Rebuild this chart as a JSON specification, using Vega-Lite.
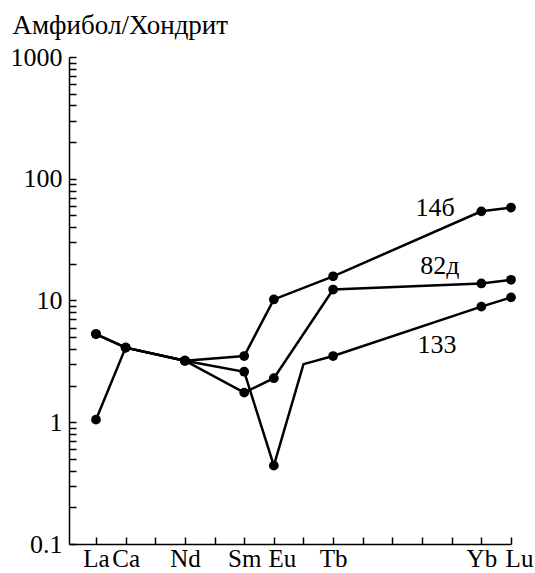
{
  "$schema": "https://vega.github.io/schema/vega-lite/v6.json",
  "width": 442,
  "height": 487,
  "autosize": "none",
  "padding": {"left": 69, "top": 57, "right": 24, "bottom": 29},
  "background": "white",
  "config": {
    "view": {"stroke": null},
    "font": "Liberation Serif",
    "axis": {"grid": false, "domainColor": "black", "tickColor": "black", "labelColor": "black", "titleColor": "black", "titleFontWeight": "normal", "domainWidth": 1.5, "tickWidth": 1.5, "labelFont": "Liberation Serif", "titleFont": "Liberation Serif"}
  },
  "datasets": {
    "ree": [
      {"series": "14б", "el": 1, "v": 1.05},
      {"series": "14б", "el": 2, "v": 4.1},
      {"series": "14б", "el": 4, "v": 3.2},
      {"series": "14б", "el": 6, "v": 3.5},
      {"series": "14б", "el": 7, "v": 10.2},
      {"series": "14б", "el": 9, "v": 15.8},
      {"series": "14б", "el": 14, "v": 54},
      {"series": "14б", "el": 15, "v": 58},
      {"series": "82д", "el": 1, "v": 5.3},
      {"series": "82д", "el": 2, "v": 4.1},
      {"series": "82д", "el": 4, "v": 3.2},
      {"series": "82д", "el": 6, "v": 1.75},
      {"series": "82д", "el": 7, "v": 2.3},
      {"series": "82д", "el": 9, "v": 12.3},
      {"series": "82д", "el": 14, "v": 13.8},
      {"series": "82д", "el": 15, "v": 14.8},
      {"series": "133", "el": 1, "v": 5.3},
      {"series": "133", "el": 2, "v": 4.1},
      {"series": "133", "el": 4, "v": 3.2},
      {"series": "133", "el": 6, "v": 2.6},
      {"series": "133", "el": 7, "v": 0.44},
      {"series": "133", "el": 8, "v": 3.0},
      {"series": "133", "el": 9, "v": 3.5},
      {"series": "133", "el": 14, "v": 8.9},
      {"series": "133", "el": 15, "v": 10.6}
    ],
    "labels": [
      {"series": "14б", "el": 12.44, "v": 57},
      {"series": "82д", "el": 12.6, "v": 19.1},
      {"series": "133", "el": 12.5, "v": 4.3}
    ]
  },
  "layer": [
    {
      "data": {"name": "ree"},
      "mark": {"type": "line", "color": "black", "strokeWidth": 2.5},
      "encoding": {
        "x": {
          "field": "el", "type": "quantitative",
          "scale": {"domain": [0.09, 15], "nice": false, "zero": false},
          "axis": {
            "title": null,
            "values": [1,2,3,4,5,6,7,8,9,10,11,12,13,14,15],
            "tickCount": 100,
            "tickSize": -7,
            "labelBaseline": "alphabetic",
            "labelPadding": 29,
            "labelFontSize": 25,
            "labelOffset": {"condition": {"test": "datum.value == 7 || datum.value == 15", "value": 8}, "value": 0},
            "labelOverlap": false,
            "labelFlush": false,
            "labelBound": false,
            "labelExpr": "datum.value == 1 ? 'La' : datum.value == 2 ? 'Ca' : datum.value == 4 ? 'Nd' : datum.value == 6 ? 'Sm' : datum.value == 7 ? 'Eu' : datum.value == 9 ? 'Tb' : datum.value == 14 ? 'Yb' : datum.value == 15 ? 'Lu' : ''"
          }
        },
        "y": {
          "field": "v", "type": "quantitative",
          "scale": {"type": "log", "domain": [0.1, 1000], "nice": false},
          "axis": {
            "title": "Амфибол/Хондрит",
            "titleFontSize": 27,
            "titleAngle": 0,
            "titleAlign": "left",
            "titleBaseline": "alphabetic",
            "titleX": -57,
            "titleY": -24,
            "values": [0.1,0.2,0.3,0.4,0.5,0.6,0.7,0.8,0.9,1,2,3,4,5,6,7,8,9,10,20,30,40,50,60,70,80,90,100,200,300,400,500,600,700,800,900,1000],
            "tickCount": 100,
            "tickSize": -7,
            "labelPadding": 14,
            "labelFontSize": 26,
            "labelOverlap": false,
            "labelFlush": false,
            "labelBound": false,
            "labelExpr": "indexof([0.1,1,10,100,1000], datum.value) >= 0 ? toString(datum.value) : ''"
          }
        },
        "detail": {"field": "series"},
        "order": {"field": "el"}
      }
    },
    {
      "data": {"name": "ree"},
      "transform": [{"filter": "datum.el != 8"}],
      "mark": {"type": "circle", "color": "black", "opacity": 1, "size": 95},
      "encoding": {
        "x": {"field": "el", "type": "quantitative"},
        "y": {"field": "v", "type": "quantitative"}
      }
    },
    {
      "data": {"name": "labels"},
      "mark": {"type": "text", "font": "Liberation Serif", "fontSize": 26, "color": "black", "align": "center", "baseline": "middle"},
      "encoding": {
        "x": {"field": "el", "type": "quantitative"},
        "y": {"field": "v", "type": "quantitative"},
        "text": {"field": "series"}
      }
    }
  ]
}
